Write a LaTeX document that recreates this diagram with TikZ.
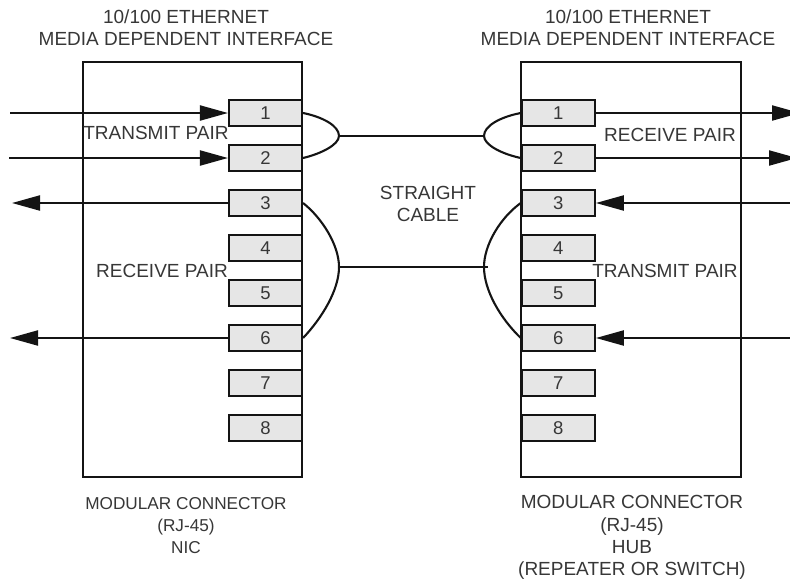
\documentclass[tikz,border=0pt]{standalone}
\usepackage{fontspec}
\setmainfont{Liberation Sans}
\usetikzlibrary{arrows.meta,positioning}
\definecolor{ink}{HTML}{141414}
\definecolor{pinfill}{HTML}{E6E6E6}
\tikzset{
  x=1pt,y=-1pt,
  wire/.style={draw=ink,line width=2.1pt},
  sig/.style={wire,-{Triangle[length=28pt,width=15pt]}},
  frame/.style={draw=ink,line width=2.1pt,fill=white,minimum width=219pt,minimum height=415pt,inner sep=0pt},
  pin/.style={draw=ink,line width=2.1pt,fill=pinfill,minimum width=73pt,minimum height=26pt,inner sep=0pt,text=ink!85,font=\fontsize{18.5}{20}\selectfont},
  lab/.style={text=ink!85,inner sep=0pt,align=center,font=\fontsize{19}{22.2}\selectfont},
  labsmall/.style={lab,font=\fontsize{17.2}{22.2}\selectfont},
}
\begin{document}
\begin{tikzpicture}
\useasboundingbox (0,0) rectangle (790,582);
\node[frame] (L) at (192.5,269.5) {};
\node[frame,minimum width=220pt] (R) at (631,269.5) {};
\foreach \n/\y in {1/113,2/158,3/203,4/248,5/293,6/338,7/383,8/428}{
  \node[pin] (l\n) at (265.5,\y) {\n};
  \node[pin] (r\n) at (558.3,\y) {\n};
}
% signal wires
\coordinate (a1) at (10,113);
\coordinate (a2) at (9,158);
\coordinate (a3) at (12,203);
\coordinate (a6) at (10,338);
\coordinate (b1) at (800,113);
\coordinate (b2) at (797,158);
\coordinate (b3) at (790,203);
\coordinate (b6) at (790,338);
\draw[sig] (a1) -- (l1.west);
\draw[sig] (a2) -- (l2.west);
\draw[sig] (l3.west) -- (a3);
\draw[sig] (l6.west) -- (a6);
\draw[sig] (r1.east) -- (b1);
\draw[sig] (r2.east) -- (b2);
\draw[sig] (b3) -- (r3.east);
\draw[sig] (b6) -- (r6.east);
% cable
\coordinate (j1) at (339,135.9);
\coordinate (j2) at (339,267);
\coordinate (k1) at (484,135.9);
\coordinate (k2) at (484,267);
\coordinate (k3) at (488,267);
\draw[wire] (l1.east) .. controls (323,117) and (339,126) .. (j1) .. controls (339,145) and (320,154) .. (l2.east);
\draw[wire] (l3.east) .. controls (322,218) and (339,245) .. (j2) .. controls (339,290) and (322,318) .. (l6.east);
\draw[wire] (r1.west) .. controls (500,117) and (484,126) .. (k1) .. controls (484,145) and (502,154) .. (r2.west);
\draw[wire] (r3.west) .. controls (500,218) and (484,245) .. (k2) .. controls (484,290) and (500,318) .. (r6.west);
\draw[wire] (j1) -- (k1);
\draw[wire] (j2) -- (k3);
% labels
\node[lab] (t1) at (186,27.4) {10/100 ETHERNET\\MEDIA DEPENDENT INTERFACE};
\node[lab] (t2) at (628,27.4) {10/100 ETHERNET\\MEDIA DEPENDENT INTERFACE};
\node[lab] (c) at (428,204) {STRAIGHT\\CABLE};
\node[lab] (p1) at (156,133) {TRANSMIT PAIR};
\node[lab] (p2) at (162,271) {RECEIVE PAIR};
\node[lab] (p3) at (670,135) {RECEIVE PAIR};
\node[lab] (p4) at (665,271) {TRANSMIT PAIR};
\node[labsmall] (b1t) at (186,525.5) {MODULAR CONNECTOR\\(RJ-45)\\NIC};
\node[lab] (b2t) at (632,537.5) {MODULAR CONNECTOR\\(RJ-45)\\HUB\\(REPEATER OR SWITCH)};
\end{tikzpicture}
\end{document}
